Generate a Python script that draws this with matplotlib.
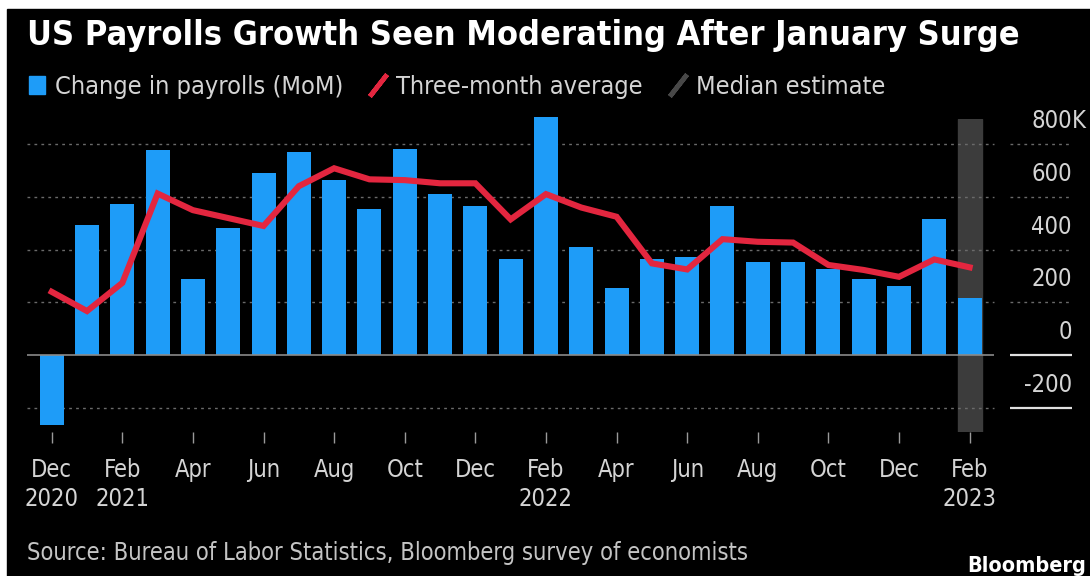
import numpy as np
import matplotlib
matplotlib.use("Agg")
from matplotlib import pyplot as plt
from matplotlib import transforms
from matplotlib.patches import Patch
from matplotlib.lines import Line2D

months = ["Dec", "Jan", "Feb", "Mar", "Apr", "May", "Jun", "Jul", "Aug", "Sep", "Oct", "Nov",
          "Dec", "Jan", "Feb", "Mar", "Apr", "May", "Jun", "Jul", "Aug", "Sep", "Oct", "Nov",
          "Dec", "Jan", "Feb"]
tick_labels = ["Dec\n2020", "Feb\n2021", "Apr", "Jun", "Aug", "Oct", "Dec", "Feb\n2022",
               "Apr", "Jun", "Aug", "Oct", "Dec", "Feb\n2023"]
payrolls = [-265, 495, 573, 780, 288, 482, 691, 770, 664, 553, 781, 611, 565, 365, 904,
            411, 255, 364, 371, 564, 352, 352, 326, 287, 263, 515, 215]
avg3 = [240, 167, 274, 613, 550, 520, 490, 641, 709, 667, 664, 652, 652, 515, 611, 560,
        525, 348, 325, 440, 430, 427, 342, 323, 297, 363, 333]
yticks = [-200, 0, 200, 400, 600, 800]
ytick_labels = ["-200", "0", "200", "400", "600", "800"]

plt.rcParams['font.family'] = ['DejaVu Sans']
plt.rcParams['font.stretch'] = 'condensed'

fig = plt.figure(figsize=(10.9, 5.76), dpi=100, facecolor="white")
# black panel with a thin white border at top/left
fig.patches.append(plt.Rectangle((7/1090, 0), 1, 1 - 9/576, transform=fig.transFigure,
                                 color="black", zorder=-5))

ax = fig.add_axes([27/1090, 0.25, 0.9587, 313/576])
ax.set_facecolor("none")
x = np.arange(len(payrolls))
ax.set_xlim(-0.7, 28.9)
ax.set_ylim(-292, 896)

blue = "#1e9cf8"
red = "#e3263f"
grey_txt = "#d4d4d4"

# median estimate band behind last bar
ax.axvspan(x[-1] - 0.34, x[-1] + 0.34, color="#3c3c3c", zorder=1)

# grid lines (main area and short right segments under labels)
for v in yticks:
    if v == 0:
        ax.hlines(v, -0.7, 26.7, color="#8a8a8a", lw=1.2, zorder=3)
        ax.hlines(v, 27.15, 28.9, color="#e0e0e0", lw=1.6, zorder=3)
    elif v == -200:
        ax.hlines(v, -0.7, 26.7, color="#6a6a6a", lw=1, linestyles=(0, (2, 3)), zorder=2)
        ax.hlines(v, 27.15, 28.9, color="#e0e0e0", lw=1.6, zorder=3)
    else:
        ax.hlines(v, -0.7, 26.7, color="#6a6a6a", lw=1, linestyles=(0, (2, 3)), zorder=2)
        ax.hlines(v, 27.15, 28.9, color="#6a6a6a", lw=1, linestyles=(0, (2, 3)), zorder=2)

ax.bar(x, payrolls, width=0.68, color=blue, zorder=2, clip_on=False)
ax.plot(x, avg3, color=red, lw=4.4, zorder=4, solid_joinstyle="miter")

# right-side value labels sitting above their lines
off = transforms.ScaledTranslation(0, 0.23, fig.dpi_scale_trans)
for v, s in zip(yticks, ytick_labels):
    ax.text(28.9, v, s, ha="right", va="center", color=grey_txt, fontsize=17,
            transform=ax.transData + off)
ax.text(28.9, yticks[-1], "K", ha="left", va="center", color=grey_txt, fontsize=17,
        transform=ax.transData + off)

for side in ["top", "right", "left", "bottom"]:
    ax.spines[side].set_visible(False)
ax.set_yticks([])
ax.set_xticks(x[::2])
ax.set_xticklabels(tick_labels, color=grey_txt, fontsize=17, linespacing=1.25)
ax.tick_params(axis="x", length=8, width=1, color="#9a9a9a", pad=11)

fig.text(27/1090, 1 - 35/576, "US Payrolls Growth Seen Moderating After January Surge",
         color="white", fontsize=24.6, fontweight="bold", va="center", ha="left")

slash = dict(color=red, lw=0, marker=(2, 2, -38), markersize=20, markeredgewidth=3.4)
handles = [Patch(color=blue),
           Line2D([], [], markeredgecolor=red, **slash),
           Line2D([], [], **{**slash, "color": "#484848", "markeredgecolor": "#484848"})]
labels = ["Change in payrolls (MoM)", "Three-month average", "Median estimate"]
leg = fig.legend(handles, labels, loc="center left", bbox_to_anchor=(29/1090, 1 - 87/576),
                 ncol=3, frameon=False, fontsize=18.2, labelcolor=grey_txt,
                 borderpad=0, borderaxespad=0,
                 handlelength=0.64, handleheight=0.7, handletextpad=0.4, columnspacing=1.05)

fig.text(27/1090, 1 - 553/576, "Source: Bureau of Labor Statistics, Bloomberg survey of economists",
         color="#c4c4c4", fontsize=17, va="center", ha="left")
fig.text(1086/1090, 1 - 566/576, "Bloomberg", color="white", fontsize=15.5, fontweight="bold",
         va="center", ha="right", fontstretch="condensed")

fig.savefig("out.png", dpi=100, facecolor=fig.get_facecolor())
